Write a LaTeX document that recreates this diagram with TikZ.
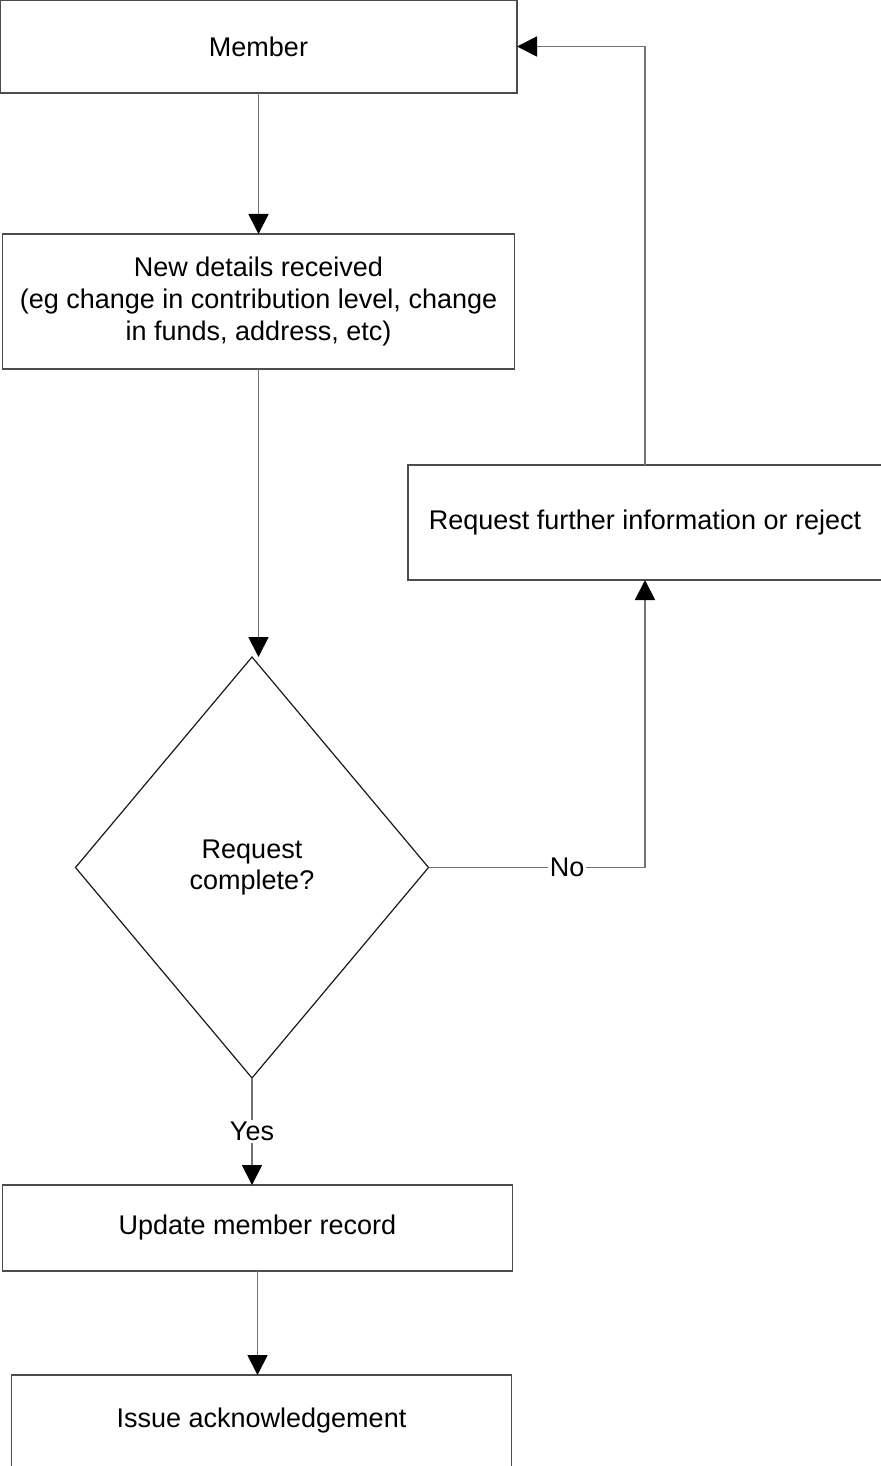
\documentclass[tikz,border=0pt]{standalone}
\usepackage{fontspec}
\setmainfont{Liberation Sans}
\usepackage{xcolor}
\usetikzlibrary{positioning, arrows.meta, shapes.geometric}

\definecolor{boxline}{gray}{0.30}
\definecolor{linkline}{gray}{0.45}

\begin{document}
\begin{tikzpicture}[
    every node/.style={font=\fontsize{13.5}{15.8}\selectfont, text=black},
    block/.style={rectangle, draw=boxline, line width=0.75pt, minimum width=#1, align=center, inner sep=0pt, outer sep=0pt},
    block/.default=256pt,
    decision/.style={diamond, draw=black!90, line width=0.6pt, minimum width=176.5pt, minimum height=210.5pt, inner sep=0pt, outer sep=0pt, align=center},
    arr/.style={-{Triangle[length=10pt, width=10pt, color=black]}, draw=linkline, line width=0.9pt},
    lbl/.style={fill=white, inner sep=1pt},
]
    \useasboundingbox (0,0) rectangle (440pt,-733pt);

    \node[block=258.5pt, minimum height=46.5pt] (member) at (129.25pt,-23.25pt) {Member};
    \node[block, minimum height=67.5pt, below=70.5pt of member] (details)
        {New details received\\(eg change in contribution level, change\\in funds, address, etc)};
    \node[decision, below=144pt of details, xshift=-3.25pt] (check) {Request\\complete?};
    \node[block=255pt, minimum height=43pt, below=53.5pt of check, xshift=2.75pt] (update) {Update member record};
    \node[block=250pt, minimum height=46pt, below=52pt of update, xshift=2pt] (issue) {Issue acknowledgement};

    \node[block=237pt, minimum height=57.5pt] (further) at (322.5pt,-261.25pt) {Request further information or reject};

    \draw[arr] (member.south) -- (member.south |- details.north);
    \draw[arr] (details.south) -- (details.south |- check.north);
    \draw[arr] (check.east) -| node[lbl, pos=0.32] (no) {No} (further.south);
    \draw[arr] (further.north) |- (member.east);
    \draw[arr] (check.south) -- node[lbl] (yes) {Yes} (check.south |- update.north);
    \draw[arr] (update.south) -- (update.south |- issue.north);
\end{tikzpicture}
\end{document}
